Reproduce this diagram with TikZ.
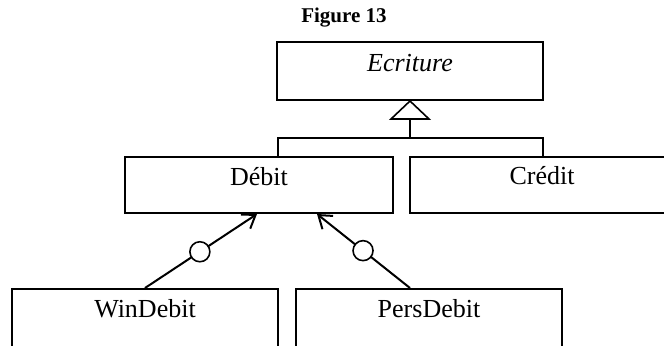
\documentclass[tikz,border=0pt]{standalone}
\usepackage{fontspec}
\setmainfont{Liberation Serif}
\usetikzlibrary{calc,arrows.meta}
\begin{document}
\begin{tikzpicture}[x=0.5pt,y=-0.5pt,
  cls/.style={draw, line width=1pt, rectangle, inner sep=0pt},
  clsname/.style={anchor=base, inner sep=0pt, font=\fontsize{13}{15}\selectfont},
  inherit/.style={line width=1pt},
  dep/.style={line width=1pt, -{Straight Barb[length=6pt,width=8.5pt,line width=1pt]}},
  ball/.style={circle, draw, fill=white, line width=0.8pt, minimum size=10pt, inner sep=0pt},
  ]
\useasboundingbox (0,0) rectangle (664,345);
\clip (0,0) rectangle (664,345);

% title
\node[anchor=base, inner sep=0pt, font=\bfseries\fontsize{10.5}{12}\selectfont] (title) at (344,22) {Figure 13};

% classes
\node[cls, minimum width=133pt, minimum height=29pt] (ecr) at (410,71) {};
\node[clsname, font=\fontsize{13}{15}\selectfont\itshape] (ecrT) at ($(ecr.north)+(0,30)$) {Ecriture};

\node[cls, minimum width=134pt, minimum height=28pt] (deb) at (259,185) {};
\node[clsname] (debT) at ($(deb.north)+(0,29.5)$) {Débit};

\node[cls, minimum width=132pt, minimum height=28pt] (cre) at (542,185) {};
\node[clsname] (creT) at ($(cre.north)+(0,28.5)$) {Crédit};

\node[cls, minimum width=133pt, minimum height=40pt] (win) at (145,329) {};
\node[clsname] (winT) at ($(win.north)+(0,29)$) {WinDebit};

\node[cls, minimum width=133pt, minimum height=40pt] (pers) at (429,329) {};
\node[clsname] (persT) at ($(pers.north)+(0,29)$) {PersDebit};

% generalisation: Débit and Crédit specialise Ecriture
\coordinate (tb) at ($(ecr.south)+(0,18)$);
\coordinate (j) at ($(tb)+(0,19)$);
\coordinate (dj) at ($(deb.north)+(19,0)$);
\coordinate (cj) at ($(cre.north)+(1,0)$);
\draw[inherit] (dj) -- (dj |- j) -- (cj |- j) -- (cj);
\draw[inherit] (tb) -- (j);
\draw[line width=0.8pt, fill=white] (ecr.south) -- ($(tb)+(19,0)$) -- ($(tb)+(-19,0)$) -- cycle;

% dependencies through interfaces
\coordinate (pt) at ($(pers.north)+(-19,0)$);
\draw[dep] (win.north) -- node[ball, pos=0.49] (ball1) {} ($(deb.south)+(-2,0)$);
\draw[dep] (pt) -- node[ball, pos=0.505] (ball2) {} ($(deb.south)+(58,0)$);
\end{tikzpicture}
\end{document}
